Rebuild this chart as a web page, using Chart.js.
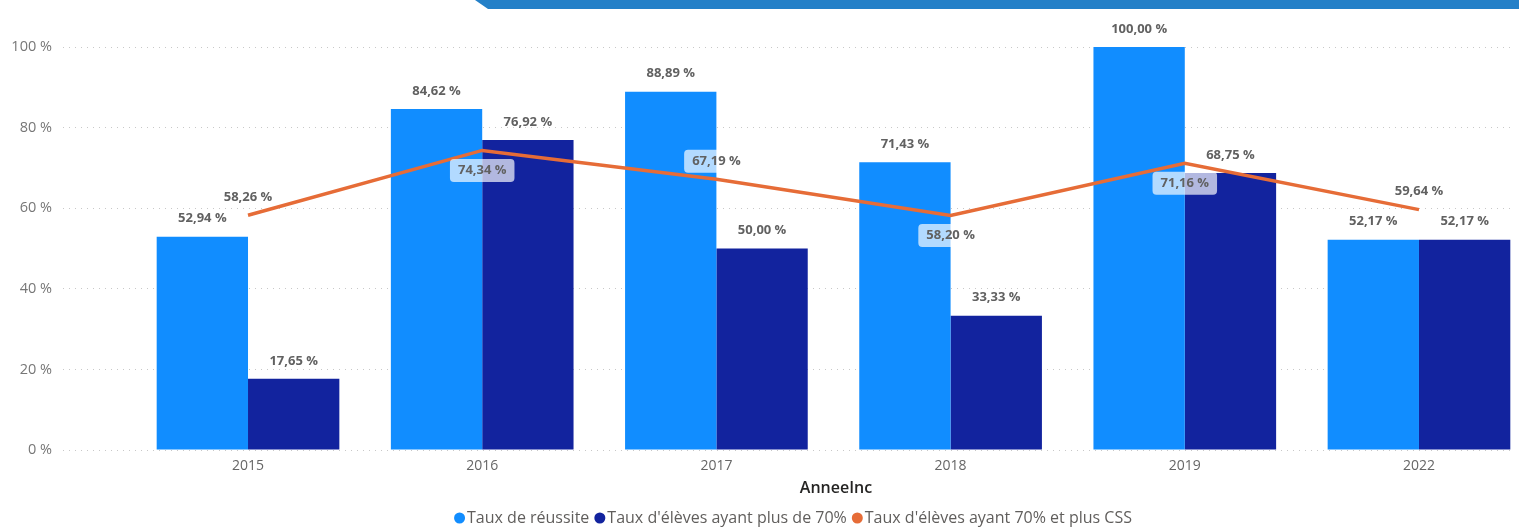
<!DOCTYPE html>
<html>
<head>
<meta charset="utf-8">
<script src="https://cdn.jsdelivr.net/npm/chart.js@4.4.1/dist/chart.umd.min.js"></script>
<style>
  html, body { margin: 0; padding: 0; background: #fff; overflow: hidden; }
  #wrap { position: relative; width: 1519px; height: 527px; }
  #banner { position: absolute; left: 475px; top: 0; width: 1044px; height: 9px; background: #2480C8;
            clip-path: polygon(0 0, 100% 0, 100% 100%, 13px 100%); }
  canvas { position: absolute; left: 0; top: 0; }
</style>
</head>
<body>
<div id="wrap">
  <canvas id="c" width="1519" height="527"></canvas>
  <div id="banner"></div>
</div>
<script>
// ---- data ----
const categories = ['2015', '2016', '2017', '2018', '2019', '2022'];
const tauxReussite = [52.94, 84.62, 88.89, 71.43, 100.00, 52.17];
const tauxPlus70 = [17.65, 76.92, 50.00, 33.33, 68.75, 52.17];
const tauxPlus70CSS = [58.26, 74.34, 67.19, 58.20, 71.16, 59.64];
const yTicks = [0, 20, 40, 60, 80, 100];
const seriesNames = ['Taux de réussite', "Taux d'élèves ayant plus de 70%", "Taux d'élèves ayant 70% et plus CSS"];
const xAxisTitle = 'AnneeInc';

// ---- label placement for line series (style only) ----
const lineLabelPos = ['above', 'below', 'above', 'below', 'below', 'above'];
const lineLabelBoxed = [false, true, true, true, true, false];

const fmt = v => v.toFixed(2).replace('.', ',') + ' %';
const toXY = arr => arr.map((v, i) => ({ x: i, y: v }));

const labelPlugin = {
  id: 'valueLabels',
  afterDatasetsDraw(chart) {
    const ctx = chart.ctx;
    ctx.save();
    ctx.font = 'bold 13px "Open Sans"';
    ctx.textAlign = 'center';
    ctx.textBaseline = 'middle';
    chart.data.datasets.forEach((ds, di) => {
      const meta = chart.getDatasetMeta(di);
      meta.data.forEach((el, i) => {
        const v = ds.data[i].y;
        const txt = fmt(v);
        if (ds.type === 'line') {
          const y = lineLabelPos[i] === 'above' ? el.y - 18 : el.y + 20;
          if (lineLabelBoxed[i]) {
            const w = ctx.measureText(txt).width + 16;
            const h = 23;
            ctx.fillStyle = 'rgba(255,255,255,0.68)';
            ctx.beginPath();
            ctx.roundRect(el.x - w / 2, y - h / 2, w, h, 4);
            ctx.fill();
          }
          ctx.fillStyle = '#616161';
          ctx.fillText(txt, el.x, y);
        } else {
          ctx.fillStyle = '#616161';
          ctx.fillText(txt, el.x, el.y - 18);
        }
      });
    });
    ctx.restore();
  }
};

const legendPlugin = {
  id: 'pbiLegend',
  afterDraw(chart) {
    const ctx = chart.ctx;
    ctx.save();
    // x-axis title (centered like the reference, right of plot center)
    ctx.font = '600 16px "Open Sans"';
    ctx.textAlign = 'center';
    ctx.textBaseline = 'middle';
    ctx.fillStyle = '#252423';
    ctx.fillText(xAxisTitle, 836, 488);

    ctx.font = '16px "Open Sans"';
    const r = 5.5, gapDot = 2, gapItem = 5, y = 518;
    const items = chart.data.datasets.map(ds => ({ text: ds.label, color: ds.backgroundColor }));
    const widths = items.map(it => 2 * r + gapDot + ctx.measureText(it.text).width);
    const total = widths.reduce((a, b) => a + b, 0) + gapItem * (items.length - 1);
    let x = 793 - total / 2;
    items.forEach((it, i) => {
      ctx.fillStyle = it.color;
      ctx.beginPath();
      ctx.arc(x + r, y, r, 0, Math.PI * 2);
      ctx.fill();
      ctx.fillStyle = '#605E5C';
      ctx.textAlign = 'left';
      ctx.fillText(it.text, x + 2 * r + gapDot, y);
      x += widths[i] + gapItem;
    });
    ctx.restore();
  }
};

new Chart(document.getElementById('c'), {
  type: 'bar',
  data: {
    datasets: [
      { label: seriesNames[0], data: toXY(tauxReussite), backgroundColor: '#118DFF', order: 1,
        categoryPercentage: 0.78, barPercentage: 1.0 },
      { label: seriesNames[1], data: toXY(tauxPlus70), backgroundColor: '#12239E', order: 1,
        categoryPercentage: 0.78, barPercentage: 1.0 },
      { label: seriesNames[2], type: 'line', data: toXY(tauxPlus70CSS), borderColor: '#E66C37',
        backgroundColor: '#E66C37', borderWidth: 3.5, pointRadius: 0, tension: 0, order: 0 }
    ]
  },
  options: {
    responsive: false,
    animation: false,
    devicePixelRatio: 1,
    layout: { padding: { top: 47, right: 4, left: 0, bottom: 27 } },
    scales: {
      x: {
        type: 'linear',
        offset: false,
        min: -0.79,
        max: 5.41,
        afterBuildTicks: s => { s.ticks = categories.map((c, i) => ({ value: i })); },
        afterFit: s => { s.height = 50; },
        ticks: {
          autoSkip: false,
          maxRotation: 0,
          callback: v => categories[v],
          color: '#666',
          font: { family: '"Open Sans"', size: 14 },
          padding: 8
        },
        grid: { display: false, drawTicks: false, offset: false },
        border: { display: false },
        title: { display: false }
      },
      y: {
        min: 0, max: 100,
        afterBuildTicks: s => { s.ticks = yTicks.map(v => ({ value: v })); },
        afterFit: s => { s.width = 63; },
        ticks: { callback: v => v + ' %', color: '#777', font: { family: '"Open Sans"', size: 14.5 }, padding: 11 },
        grid: { color: '#c8c8c8', lineWidth: 1, drawTicks: false },
        border: { display: false, dash: [1, 5] }
      }
    },
    plugins: {
      legend: { display: false },
      tooltip: { enabled: false }
    }
  },
  plugins: [labelPlugin, legendPlugin]
});
</script>
</body>
</html>
